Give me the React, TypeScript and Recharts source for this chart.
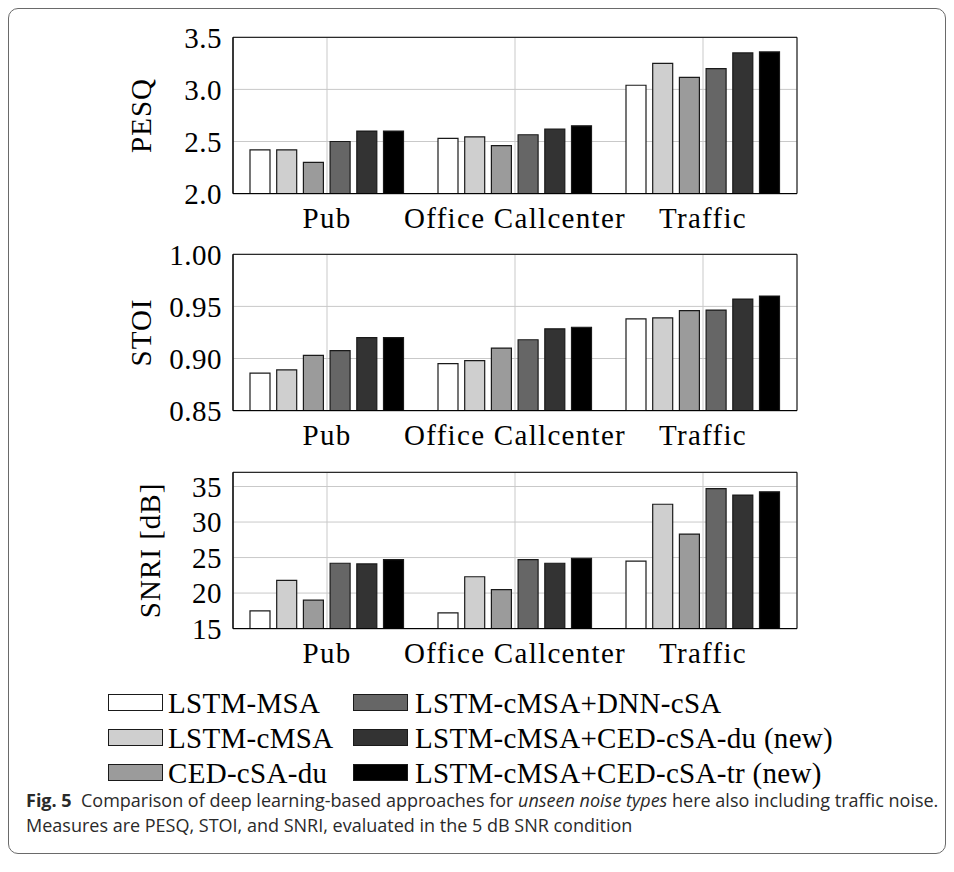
import { BarChart, Bar, XAxis, YAxis, CartesianGrid, ReferenceArea } from 'recharts';

const categories = ['Pub', 'Office Callcenter', 'Traffic'];
const methods = [
  'LSTM-MSA',
  'LSTM-cMSA',
  'CED-cSA-du',
  'LSTM-cMSA+DNN-cSA',
  'LSTM-cMSA+CED-cSA-du (new)',
  'LSTM-cMSA+CED-cSA-tr (new)',
];
const fills = ['#ffffff', '#cfcfcf', '#9b9b9b', '#666666', '#333333', '#000000'];

// rows follow `methods`, columns follow `categories`
const pesq = [
  [2.42, 2.53, 3.04],
  [2.42, 2.545, 3.25],
  [2.3, 2.46, 3.115],
  [2.5, 2.565, 3.2],
  [2.6, 2.62, 3.35],
  [2.6, 2.65, 3.36],
];
const stoi = [
  [0.886, 0.895, 0.938],
  [0.889, 0.898, 0.939],
  [0.903, 0.91, 0.946],
  [0.9075, 0.918, 0.9465],
  [0.92, 0.9285, 0.957],
  [0.92, 0.93, 0.96],
];
const snri = [
  [17.5, 17.2, 24.5],
  [21.8, 22.3, 32.5],
  [19.0, 20.5, 28.3],
  [24.2, 24.7, 34.7],
  [24.1, 24.2, 33.8],
  [24.7, 24.9, 34.25],
];

const pesqTicks = [2.0, 2.5, 3.0, 3.5];
const stoiTicks = [0.85, 0.9, 0.95, 1.0];
const snriTicks = [15, 20, 25, 30, 35];

const SERIF = "'Liberation Serif', 'Times New Roman', serif";
const FS = 29;

function toRows(values: number[][]) {
  return categories.map((name, c) => {
    const row: Record<string, string | number> = { name };
    values.forEach((v, m) => {
      row['m' + m] = v[c];
    });
    return row;
  });
}

const PLOT_H = 156.3;
const M_TOP = 29.3;

function AxisTitle(props: any) {
  const { value, cx } = props;
  const cy = M_TOP + PLOT_H / 2;
  return (
    <text
      transform={`translate(${cx},${cy}) rotate(-90)`}
      textAnchor="middle"
      dominantBaseline="central"
      fontFamily={SERIF}
      fontSize={FS}
      letterSpacing={1}
      fill="#000"
    >
      {value}
    </text>
  );
}

interface PanelProps {
  values: number[][];
  ticks: number[];
  domain: [number, number];
  title: string;
  titleX: number;
  top: number;
  fmt: (v: number) => string;
}

function Panel({ values, ticks, domain, title, titleX, top, fmt }: PanelProps) {
  const data = toRows(values);
  return (
    <div style={{ position: 'absolute', left: 0, top }}>
      <BarChart
        width={800}
        height={240}
        data={data}
        barGap={6.7}
        margin={{ top: M_TOP, right: 11, left: 0, bottom: 240 - M_TOP - PLOT_H - 50 }}
      >
        <CartesianGrid stroke="#c9c9c9" strokeWidth={1} />
        <XAxis
          dataKey="name"
          interval={0}
          height={50}
          tickSize={0}
          tickMargin={14}
          axisLine={{ stroke: '#000' }}
          tick={{ fill: '#000', fontFamily: SERIF, fontSize: FS, letterSpacing: 1.3 }}
        />
        <YAxis
          type="number"
          domain={domain}
          ticks={ticks}
          interval={0}
          width={225}
          tickSize={0}
          tickMargin={11}
          allowDataOverflow
          tickFormatter={fmt}
          axisLine={{ stroke: '#000' }}
          tick={{ fill: '#000', fontFamily: SERIF, fontSize: FS, letterSpacing: 0.5 }}
          label={<AxisTitle value={title} cx={titleX} />}
        />
        {methods.map((m, i) => (
          <Bar
            key={m}
            name={m}
            dataKey={'m' + i}
            fill={fills[i]}
            stroke="#1a1a1a"
            strokeWidth={1.2}
            barSize={20}
            isAnimationActive={false}
          />
        ))}
        <ReferenceArea y1={domain[0]} y2={domain[1]} fill="none" stroke="#000" strokeWidth={1} />
      </BarChart>
    </div>
  );
}

// legend is laid out column-major, three rows
function LegendBlock() {
  const colSwatch = [100, 345];
  const colText = [160, 407];
  const rowY = [695, 730, 765];
  return (
    <>
      {methods.map((m, i) => {
        const col = Math.floor(i / 3);
        const row = i % 3;
        return (
          <div key={m}>
            <div
              style={{
                position: 'absolute',
                left: colSwatch[col],
                top: rowY[row] - 9,
                width: 55,
                height: 17,
                boxSizing: 'border-box',
                background: fills[i],
                border: '1.3px solid #1a1a1a',
              }}
            />
            <div
              style={{
                position: 'absolute',
                left: colText[col],
                top: rowY[row] - 18,
                height: 36,
                lineHeight: '36px',
                fontFamily: SERIF,
                fontSize: FS,
                letterSpacing: 0.3,
                whiteSpace: 'nowrap',
                color: '#000',
              }}
            >
              {m}
            </div>
          </div>
        );
      })}
    </>
  );
}

export default function App() {
  return (
    <div style={{ position: 'relative', width: 938, height: 846 }}>
      <div
        style={{
          position: 'absolute',
          left: 0,
          top: 0,
          width: 938,
          height: 846,
          boxSizing: 'border-box',
          border: '1.5px solid #6a6a6a',
          borderRadius: 10,
        }}
      />
      <Panel values={pesq} ticks={pesqTicks} domain={[2, 3.5]} title="PESQ" titleX={133} top={0} fmt={(v) => v.toFixed(1)} />
      <Panel values={stoi} ticks={stoiTicks} domain={[0.85, 1]} title="STOI" titleX={133} top={217} fmt={(v) => v.toFixed(2)} />
      <Panel values={snri} ticks={snriTicks} domain={[15, 37]} title="SNRI [dB]" titleX={142} top={434.9} fmt={(v) => String(v)} />
      <LegendBlock />
      <div
        style={{
          position: 'absolute',
          left: 18,
          top: 780,
          fontFamily: "'Open Sans', sans-serif",
          fontSize: 18,
          lineHeight: '25px',
          color: '#2a2a2a',
          whiteSpace: 'nowrap',
        }}
      >
        <div>
          <b>Fig. 5</b>&nbsp; Comparison of deep learning-based approaches for <i>unseen noise types</i> here also including
          traffic noise.
        </div>
        <div>Measures are PESQ, STOI, and SNRI, evaluated in the 5 dB SNR condition</div>
      </div>
    </div>
  );
}
